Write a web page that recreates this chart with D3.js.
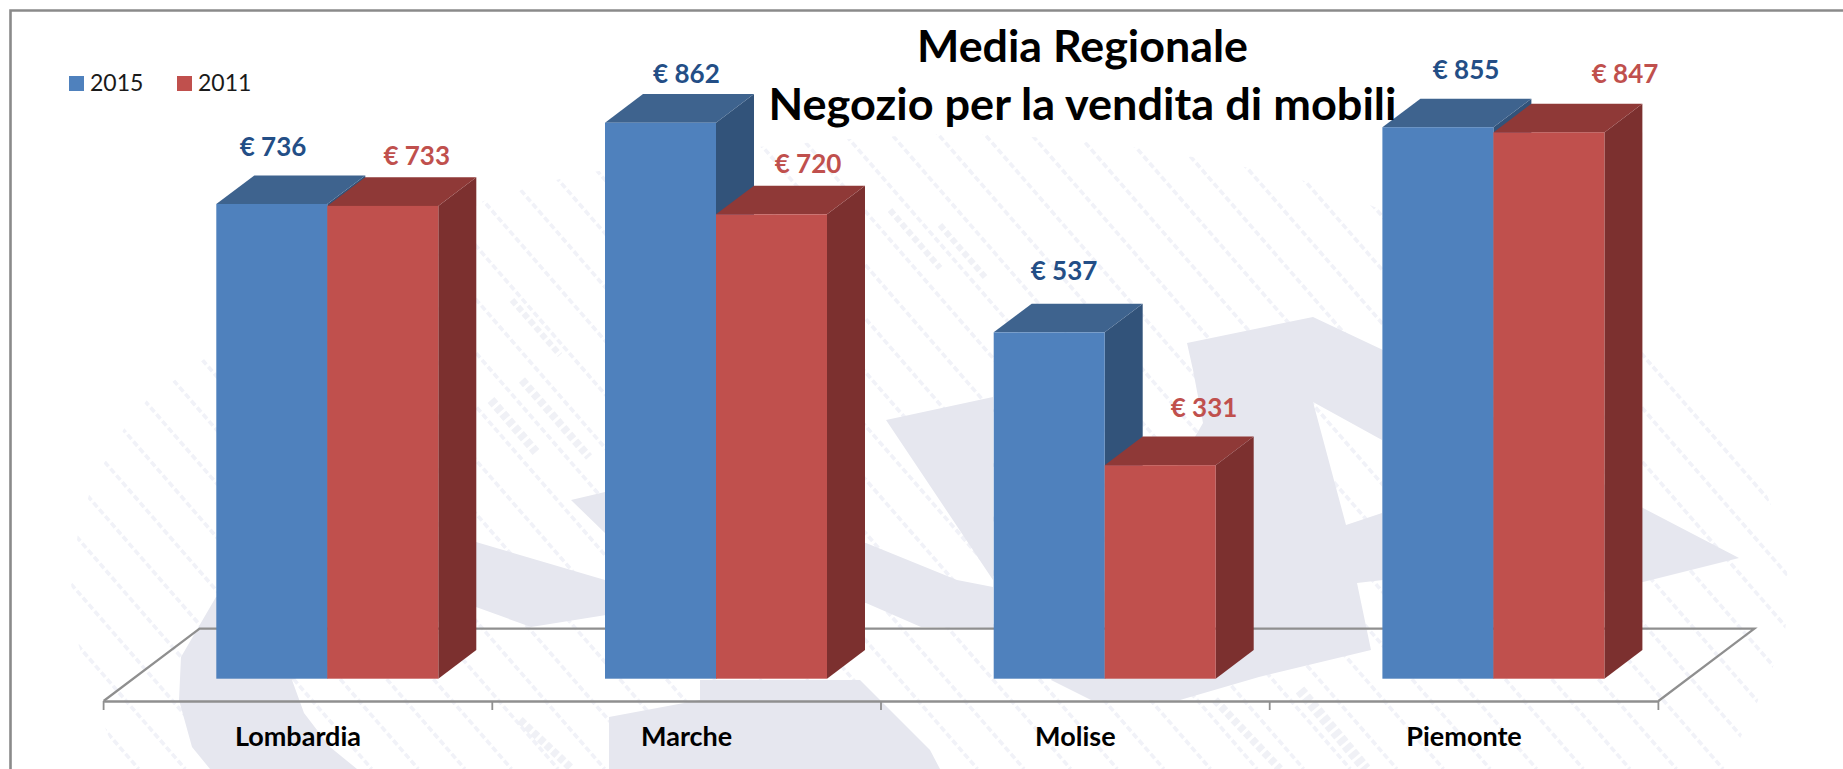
<!DOCTYPE html>
<html>
<head>
<meta charset="utf-8">
<script src="https://cdn.jsdelivr.net/npm/d3@7"></script>
<style>
html,body{margin:0;padding:0;background:#fff;overflow:hidden}
svg{display:block}
text{font-family:Lato,"Noto Sans",sans-serif}
</style>
</head>
<body>
<svg id="chart" width="1843" height="769"></svg>
<script>
// ---- data ----
const categories = ["Lombardia", "Marche", "Molise", "Piemonte"];
const seriesNames = ["2015", "2011"];
const values2015 = [736, 862, 537, 855];
const values2011 = [733, 720, 331, 847];
const titleLines = ["Media Regionale", "Negozio per la vendita di mobili"];

// ---- layout of the hand-placed data labels (offset from each bar's centre / top) ----
const labelDx2015 = [1.2, 25.9, 14.8, 28.1];
const labelDy2015 = [-47.5, -39.7, -52, -48];
const labelDx2011 = [33.9, 36.5, 43.8, 76.1];
const labelDy2011 = [-41, -41.6, -48, -49.4];

const colours = {
  "2015": {front:"#4F81BD", top:"#3E638E", side:"#32537A", label:"#234E86"},
  "2011": {front:"#C0504D", top:"#8F3937", side:"#7C302F", label:"#C0504D"}
};

const svg = d3.select("#chart");
const W = 1843, H = 769;

// ---- scales ----
const floorLeft = 103.6, floorRight = 1658.4, floorFront = 701, floorBack = 628.7;
const floorDx = 96;
const barBase = 678.7;
const depthX = 38, depthY = 28.6;

const x0 = d3.scaleBand().domain(categories).range([floorLeft, floorRight]);
const x1 = d3.scaleBand().domain(seriesNames).range([112.7, 334.7]);
const y = d3.scaleLinear().domain([0, 1000]).range([barBase, 33.7]);

// ---- watermark ----
const defs = svg.append("defs");
const silhouette = [[71,583],[78,533],[89,495],[106,459],[125,427],[147,400],[300,290],[400,232],[492,198],[567,177],[700,152],[862,138],[955,133],[1050,138],[1156,150],[1270,172],[1331,188],[1450,240],[1600,310],[1700,375],[1750,448],[1783,538],[1790,597],[1783,643],[1766,683],[1750,718],[1725,769],[125,769],[107,733],[78,643]];
defs.append("clipPath").attr("id","wm").append("polygon").attr("points", silhouette.map(p=>p.join(",")).join(" "));

const wm = svg.append("g");
const stripes = wm.append("g").attr("clip-path","url(#wm)");
const slope = 1.15, firstC = -530, stepC = 46.6;
d3.range(0, 41).forEach(k => {
  const c = firstC + k * stepC;
  stripes.append("line")
    .attr("x1", c).attr("y1", 0)
    .attr("x2", c + H / slope).attr("y2", H)
    .attr("stroke", "#F1F2F8").attr("stroke-width", 3.6)
    .attr("stroke-dasharray", "6 3");
});
const accents = [[491,400,536,452,9],[522,380,589,457,8],[512,300,560,355,6],[890,210,940,268,6],[940,225,985,277,6],[1300,690,1366,769,11],[1215,700,1280,769,8],[520,720,572,769,8]];
accents.forEach(a => stripes.append("line")
  .attr("x1",a[0]).attr("y1",a[1]).attr("x2",a[2]).attr("y2",a[3])
  .attr("stroke","#F0F1F6").attr("stroke-width",a[4]).attr("stroke-dasharray","6 3"));

const poly = pts => "M" + pts.map(p=>p.join(",")).join("L") + "Z";
const blobs = [
  // left swoosh and band running behind the bars
  [[476,542],[605,580],[720,530],[866,543],[957,580],[993,587],[993,628],[921,627],[866,603],[700,600],[531,627],[476,607],[292,680],[304,713],[330,747],[357,769],[210,769],[192,747],[179,700],[181,657],[216,597]],
  [[886,420],[993,397],[993,580]],
  [[571,500],[605,492],[605,533]],
  // under the Marche bars
  [[700,680],[860,680],[880,700],[930,750],[940,769],[609,769],[609,717],[700,700]],
  // big shape at right
  [[1187,343],[1313,317],[1383,350],[1643,508],[1739,558],[1643,582],[1470,625],[1383,640],[1383,580],[1357,583],[1371,650],[1259,677],[1180,700],[1091,700],[1051,680],[1100,600],[1203,423],[1193,370]]
];
const hole = [[1313,402],[1382,440],[1382,513],[1346,525]];
wm.append("path")
  .attr("d", blobs.map(poly).join("") + poly(hole))
  .attr("fill", "#E6E7EF").attr("fill-rule","evenodd");

// ---- frame ----
svg.append("path").attr("d", `M10.5,${H}V10.5H${W}`)
  .attr("fill","none").attr("stroke","#8A8A8A").attr("stroke-width",2.6);

// ---- floor ----
svg.append("path")
  .attr("d", `M${floorLeft},${floorFront}L${floorLeft+floorDx},${floorBack}H${floorRight+floorDx}L${floorRight},${floorFront}`)
  .attr("fill","none").attr("stroke","#8F8F8F").attr("stroke-width",2.2);

// ---- category axis ----
const axisG = svg.append("g").attr("transform",`translate(0,${floorFront})`)
  .call(d3.axisBottom(x0).tickSize(0).tickPadding(0));
axisG.select(".domain").attr("stroke","#8F8F8F").attr("stroke-width",2.4);
axisG.selectAll(".tick text").attr("y",45).attr("dy",0)
  .attr("font-size",27).attr("font-weight",700).attr("fill","#000")
  .style("font-family","Lato,'Noto Sans',sans-serif");
const tickPositions = categories.map(c=>x0(c)).concat([x0.range()[1]]);
axisG.selectAll(".edge").data(tickPositions).join("line").attr("class","edge")
  .attr("x1",d=>d).attr("x2",d=>d).attr("y1",0).attr("y2",9)
  .attr("stroke","#8F8F8F").attr("stroke-width",1.8);

// ---- bars ----
const rows = categories.flatMap((c,i)=>[
  {cat:c, s:"2015", v:values2015[i], dx:labelDx2015[i], dy:labelDy2015[i]},
  {cat:c, s:"2011", v:values2011[i], dx:labelDx2011[i], dy:labelDy2011[i]}
]);
const left = d => x0(d.cat) + x1(d.s);
const bw = x1.bandwidth();
const bars = svg.append("g").selectAll("g").data(rows).join("g");
bars.append("path").attr("fill",d=>colours[d.s].side)
  .attr("d",d=>{const r=left(d)+bw,t=y(d.v);
    return `M${r},${t}L${r+depthX},${t-depthY}V${barBase-depthY}L${r},${barBase}Z`;});
bars.append("path").attr("fill",d=>colours[d.s].top)
  .attr("d",d=>{const l=left(d),t=y(d.v);
    return `M${l},${t}L${l+depthX},${t-depthY}H${l+bw+depthX}L${l+bw},${t}Z`;});
// front faces go last so the neighbouring bar never covers them
svg.append("g").selectAll("rect").data(rows).join("rect")
  .attr("x",left).attr("width",bw)
  .attr("y",d=>y(d.v)).attr("height",d=>barBase-y(d.v))
  .attr("fill",d=>colours[d.s].front);

// ---- data labels ----
svg.append("g").selectAll("text").data(rows).join("text")
  .attr("x",d=>left(d)+bw/2+d.dx).attr("y",d=>y(d.v)+d.dy)
  .attr("text-anchor","middle")
  .attr("font-size",26).attr("font-weight",700)
  .attr("fill",d=>colours[d.s].label)
  .text(d=>"€ "+d.v);

// ---- title ----
const titleWidths = [331, 628];
svg.append("g").selectAll("text").data(titleLines).join("text")
  .attr("x",1082.5).attr("y",(d,i)=>i===0?61.7:119.5)
  .attr("text-anchor","middle")
  .attr("font-size",43).attr("font-weight",700).attr("fill","#000")
  .attr("textLength",(d,i)=>titleWidths[i]).attr("lengthAdjust","spacingAndGlyphs")
  .text(d=>d);

// ---- legend ----
const lx = d3.scaleOrdinal().domain(seriesNames).range([69,177]);
const lg = svg.append("g").selectAll("g").data(seriesNames).join("g")
  .attr("transform",d=>`translate(${lx(d)},76)`);
lg.append("rect").attr("width",15).attr("height",15).attr("fill",d=>colours[d].front);
lg.append("text").attr("x",21).attr("y",15)
  .attr("font-size",23).attr("fill","#1a1a1a").text(d=>d);
</script>
</body>
</html>
